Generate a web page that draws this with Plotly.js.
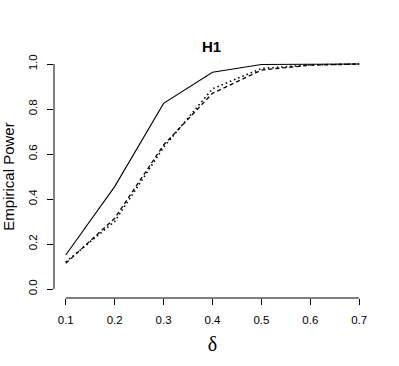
<!DOCTYPE html>
<html>
<head>
<meta charset="utf-8">
<script src="https://cdn.plot.ly/plotly-3.0.1.min.js"></script>
<style>
  html, body { margin: 0; padding: 0; background: #fff; }
  #chart { width: 399px; height: 366px; }
</style>
</head>
<body>
<div id="chart"></div>
<script>
// delta values on the x axis
const delta = [0.1, 0.2, 0.3, 0.4, 0.5, 0.6, 0.7];

// empirical power of the three tests
const powerSolid  = [0.151, 0.455, 0.825, 0.963, 0.998, 1.0, 1.0];
const powerDashed = [0.114, 0.314, 0.640, 0.870, 0.973, 0.995, 1.0];
const powerDotted = [0.120, 0.300, 0.630, 0.890, 0.980, 0.996, 1.0];

const xTicks = [0.1, 0.2, 0.3, 0.4, 0.5, 0.6, 0.7];
const yTicks = [0.0, 0.2, 0.4, 0.6, 0.8, 1.0];

function drawChart() {
    const mk = (y, dash, w) => ({
        x: delta,
        y: y,
        type: 'scatter',
        mode: 'lines',
        line: { color: '#000', width: w, dash: dash },
        hoverinfo: 'skip'
    });

    const traces = [
        mk(powerSolid, 'solid', 1.1),
        mk(powerDashed, '4px,3px', 1.3),
        mk(powerDotted, '1.5px,3px', 1.6)
    ];

    // R-style axes: line only spans the first to the last tick
    const axisLine = { color: '#000', width: 1 };

    const layout = {
        width: 399,
        height: 366,
        margin: { l: 54, r: 28, t: 55, b: 68 },
        paper_bgcolor: '#fff',
        plot_bgcolor: '#fff',
        showlegend: false,
        font: { family: 'Liberation Sans, Arial, sans-serif', color: '#000', size: 11 },
        title: {
            text: '<b>H1</b>',
            font: { size: 15, family: 'Liberation Sans, Arial, sans-serif' },
            x: 0.53, xanchor: 'center',
            y: 0.872, yanchor: 'middle'
        },
        xaxis: {
            range: [0.076, 0.724],
            tickvals: xTicks,
            tickformat: '.1f',
            ticks: 'outside', ticklen: 6, tickwidth: 1, tickcolor: '#000',
            ticklabelstandoff: 5,
            showgrid: false, zeroline: false, showline: false,
            tickfont: { size: 11.5 },
            title: {
                text: 'δ',
                font: { family: 'Liberation Serif, DejaVu Serif, serif', size: 20 },
                standoff: 12
            }
        },
        yaxis: {
            range: [-0.04, 1.04],
            tickvals: yTicks,
            tickformat: '.1f',
            tickangle: -90,
            ticks: 'outside', ticklen: 6, tickwidth: 1, tickcolor: '#000',
            ticklabelstandoff: 5,
            showgrid: false, zeroline: false, showline: false,
            tickfont: { size: 11.5 },
            title: {
                text: 'Empirical Power',
                font: { size: 15 },
                standoff: 14
            }
        },
        shapes: [
            { type: 'line', xref: 'x', yref: 'paper', x0: xTicks[0], x1: xTicks[xTicks.length - 1], y0: 0, y1: 0, line: axisLine },
            { type: 'line', xref: 'paper', yref: 'y', x0: 0, x1: 0, y0: yTicks[0], y1: yTicks[yTicks.length - 1], line: axisLine }
        ]
    };

    Plotly.newPlot('chart', traces, layout, { staticPlot: true, displayModeBar: false });
}

window.onload = drawChart;
</script>
</body>
</html>
